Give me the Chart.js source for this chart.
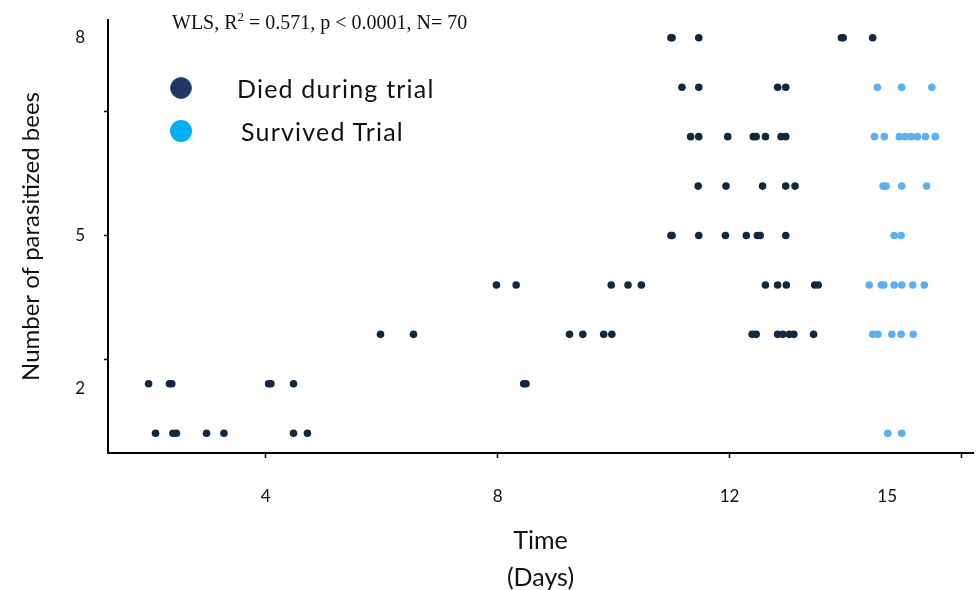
<!DOCTYPE html>
<html>
<head>
<meta charset="utf-8">
<script src="https://cdn.jsdelivr.net/npm/chart.js@4/dist/chart.umd.min.js"></script>
<style>
body { margin: 0; background: #fff; }
#wrap { position: relative; width: 977px; height: 590px; }
#note { position: absolute; left: 172px; top: 9px; font-family: "Liberation Serif", serif; font-size: 20px; color: #111; white-space: nowrap; }
#note sup { font-size: 13px; }
.item { position: absolute; height: 30px; line-height: 30px; font-family: Lato, sans-serif; font-size: 25px; letter-spacing: 1.2px; color: #111; white-space: nowrap; }
.dot { position: absolute; width: 22px; height: 22px; border-radius: 50%; box-sizing: border-box; }
</style>
</head>
<body>
<div id="wrap">
	<canvas id="chart" width="977" height="590"></canvas>
	<div id="note">WLS, R<sup>2</sup> = 0.571, p &lt; 0.0001, N= 70</div>
	<div class="dot" style="left:170px;top:77px;background:#1f3864;border:1.5px solid #2f5597;"></div>
	<div class="item" style="left:237px;top:73px;">Died during trial</div>
	<div class="dot" style="left:170px;top:120px;background:#00b0f0;"></div>
	<div class="item" style="left:241px;top:116px;">Survived Trial</div>
</div>
<script>
// x = day, y = row level (1 = lowest row)
var diedDays  = [10.99, 11.01, 11.47, 13.93, 13.96, 14.47,
	11.18, 11.47, 12.83, 12.97,
	11.33, 11.47, 11.97, 12.41, 12.46, 12.62, 12.89, 12.97,
	11.46, 11.94, 12.57, 12.97, 13.13,
	10.99, 11.01, 11.47, 11.93, 12.29, 12.48, 12.53, 12.97,
	7.98, 8.32, 9.96, 10.25, 10.48, 12.62, 12.83, 12.98, 13.47, 13.53,
	5.98, 6.55, 9.24, 9.47, 9.83, 9.97, 12.39, 12.46, 12.83, 12.92, 13.03, 13.11, 13.45,
	1.98, 2.34, 2.38, 4.05, 4.09, 4.48, 8.45, 8.49,
	2.10, 2.40, 2.46, 2.98, 3.28, 4.48, 4.72];
var diedLevel = [9, 9, 9, 9, 9, 9,
	8, 8, 8, 8,
	7, 7, 7, 7, 7, 7, 7, 7,
	6, 6, 6, 6, 6,
	5, 5, 5, 5, 5, 5, 5, 5,
	4, 4, 4, 4, 4, 4, 4, 4, 4, 4,
	3, 3, 3, 3, 3, 3, 3, 3, 3, 3, 3, 3, 3,
	2, 2, 2, 2, 2, 2, 2, 2,
	1, 1, 1, 1, 1, 1, 1];
var survivedDays  = [14.55, 14.97, 15.49,
	14.50, 14.67, 14.93, 15.03, 15.13, 15.24, 15.38, 15.55,
	14.65, 14.70, 14.97, 15.40,
	14.84, 14.96,
	14.41, 14.62, 14.66, 14.84, 14.97, 15.16, 15.36,
	14.47, 14.56, 14.80, 14.96, 15.17,
	14.73, 14.97];
var survivedLevel = [8, 8, 8,
	7, 7, 7, 7, 7, 7, 7, 7,
	6, 6, 6, 6,
	5, 5,
	4, 4, 4, 4, 4, 4, 4,
	3, 3, 3, 3, 3,
	1, 1];

var xTickValues = [4, 8, 12, 14.72, 16];
var xTickLabels = ["4", "8", "12", "15", ""];
var xTickMarks  = [true, true, true, false, true];
var yTickValues = [1.9, 2.5, 5, 7.5, 9];
var yTickLabels = ["2", "", "5", "", "8"];
var yTickMarks  = [false, true, true, true, false];

function toPoints(xs, ys) {
	var pts = [];
	for (var i = 0; i < xs.length; i++)
		pts.push({x: xs[i], y: ys[i]});
	return pts;
}
function fixedTicks(values) {
	return function(scale) {
		scale.ticks = values.map(function(v){ return {value: v}; });
	};
}
function markColor(marks) {
	return function(ctx) { return marks[ctx.index] ? "#000" : "rgba(0,0,0,0)"; };
}

var axisFont = {family: "Lato", size: 17};
var titleFont = {family: "Lato", size: 25, lineHeight: 1.48};

new Chart(document.getElementById("chart"), {
	type: "scatter",
	data: {
		datasets: [{
			label: "Died during trial",
			data: toPoints(diedDays, diedLevel),
			backgroundColor: "#13273f",
			borderWidth: 0,
			pointRadius: 3.8
		}, {
			label: "Survived Trial",
			data: toPoints(survivedDays, survivedLevel),
			backgroundColor: "#5caff0",
			borderWidth: 0,
			pointRadius: 3.8
		}]
	},
	options: {
		responsive: false,
		animation: false,
		layout: {padding: {top: 20, right: 2}},
		plugins: {legend: {display: false}, tooltip: {enabled: false}},
		scales: {
			x: {
				type: "linear",
				min: 1.28,
				max: 16.2,
				afterBuildTicks: fixedTicks(xTickValues),
				afterFit: function(s){ s.height = 137; s.paddingLeft = 0; s.paddingRight = 0; },
				ticks: {autoSkip: false, maxRotation: 0, padding: 28, color: "#111", font: axisFont,
					callback: function(v, i){ return xTickLabels[i]; }},
				grid: {drawOnChartArea: false, tickLength: 5, tickWidth: 1.5, tickColor: markColor(xTickMarks)},
				border: {color: "#000", width: 2},
				title: {display: true, text: ["Time", "(Days)"], color: "#111", font: titleFont, padding: {top: 0, bottom: -6}}
			},
			y: {
				type: "linear",
				min: 0.6,
				max: 9.36,
				afterBuildTicks: fixedTicks(yTickValues),
				afterFit: function(s){ s.width = 108; s.paddingTop = 0; s.paddingBottom = 0; },
				ticks: {autoSkip: false, padding: 19, color: "#111", font: axisFont,
					callback: function(v, i){ return yTickLabels[i]; }},
				grid: {drawOnChartArea: false, tickLength: 4, tickWidth: 1.5, tickColor: markColor(yTickMarks)},
				border: {color: "#000", width: 2},
				title: {display: true, text: "Number of parasitized bees", color: "#111", font: {family: "Lato", size: 24}, padding: {top: 17, bottom: 0}}
			}
		}
	}
});
</script>
</body>
</html>
